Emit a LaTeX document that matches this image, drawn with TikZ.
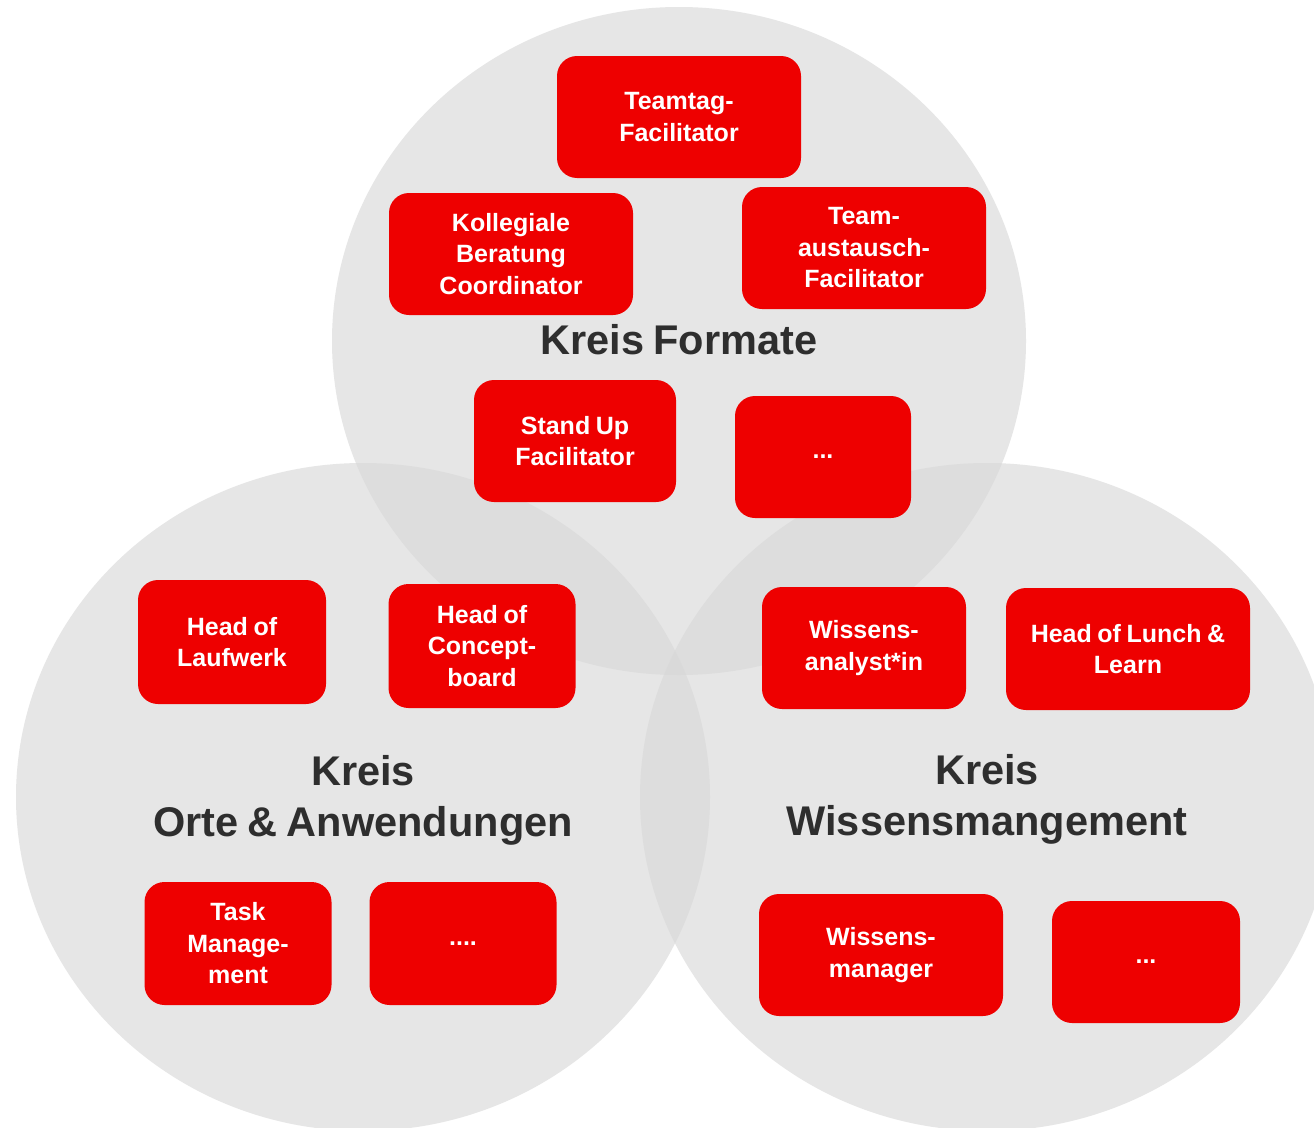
\documentclass[tikz,border=0pt]{standalone}
\usepackage{fontspec}
\setmainfont{Liberation Sans}[WordSpace=0.8]
\definecolor{boxred}{HTML}{EE0000}
\definecolor{kreisgray}{RGB}{216,216,216}
\definecolor{titlegray}{HTML}{2E2E2E}
\begin{document}
\begin{tikzpicture}[x=1pt,y=-1pt,
  kreis/.style={fill=kreisgray,fill opacity=0.64},
  rolebox/.style={fill=boxred,rounded corners=20pt,text=white,inner sep=0pt,
    font=\bfseries\fontsize{25}{31.5}\selectfont,align=center},
  kreistitle/.style={text=titlegray,inner sep=0pt,align=center,
    font=\bfseries\fontsize{41.5}{51}\selectfont}]
\useasboundingbox (0,0) rectangle (1314,1127);
\fill[white] (0,0) rectangle (1314,1127);
% circles
\fill[kreis] (679,341) ellipse [x radius=347, y radius=334];
\fill[kreis] (363,797) ellipse [x radius=347, y radius=334];
\fill[kreis] (987,797) ellipse [x radius=347, y radius=334];
% Kreis Formate
\node[rolebox,minimum width=244pt,minimum height=122pt] (teamtag) at (679,117) {Teamtag-\\Facilitator};
\node[rolebox,minimum width=244pt,minimum height=122pt] (kollegial) at (511,254) {Kollegiale\\Beratung\\Coordinator};
\node[rolebox,minimum width=244pt,minimum height=122pt] (austausch) at (864,248) {Team-\\austausch-\\Facilitator};
\node[kreistitle] (formate) at (679,340) {Kreis Formate};
\node[rolebox,minimum width=202pt,minimum height=122pt] (standup) at (575,441) {Stand Up\\Facilitator};
\node[rolebox,minimum width=176pt,minimum height=122pt] (fmore) at (823,457) {...};
% Kreis Orte & Anwendungen
\node[rolebox,minimum width=188pt,minimum height=124pt] (laufwerk) at (232,642) {Head of\\Laufwerk};
\node[rolebox,minimum width=187pt,minimum height=124pt] (concept) at (482,646) {Head of\\Concept-\\board};
\node[kreistitle] (orte) at (363,800.5) {Kreis\\Orte \& Anwendungen};
\node[rolebox,minimum width=187pt,minimum height=123pt] (task) at (238,943.5) {Task\\Manage-\\ment};
\node[rolebox,minimum width=187pt,minimum height=123pt] (omore) at (463,943.5) {....};
% Kreis Wissensmangement
\node[rolebox,minimum width=204pt,minimum height=122pt] (analyst) at (864,648) {Wissens-\\analyst*in};
\node[rolebox,minimum width=244pt,minimum height=122pt] (lunch) at (1128,649) {Head of Lunch \&\\Learn};
\node[kreistitle] (wissen) at (987,799.5) {Kreis\\Wissensmangement};
\node[rolebox,minimum width=244pt,minimum height=122pt] (manager) at (881,955) {Wissens-\\manager};
\node[rolebox,minimum width=188pt,minimum height=122pt] (wmore) at (1146,962) {...};
\end{tikzpicture}
\end{document}
